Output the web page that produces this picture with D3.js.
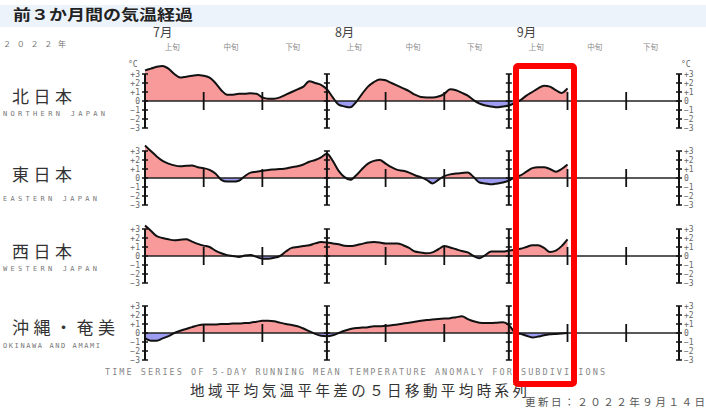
<!DOCTYPE html>
<html><head><meta charset="utf-8">
<script src="https://cdn.jsdelivr.net/npm/d3@7"></script>
<style>body{margin:0;background:#fff;} svg{display:block;}</style>
</head><body>
<svg id="c" width="706" height="409"></svg>
<script>
// ---- data (daily 5-day running mean anomaly, °C, from 2022-07-01) ----
const startDate = new Date(2022, 6, 1);
const endDate = new Date(2022, 8, 30);
const northern = [3.4,3.6,3.8,3.9,3.6,3.0,2.6,2.7,2.8,2.9,2.8,2.6,2.0,1.2,0.7,0.7,0.8,0.8,0.85,0.8,0.4,0.25,0.25,0.4,0.7,1.0,1.3,1.6,2.2,2.0,1.8,1.3,0.4,-0.4,-0.6,-0.7,-0.1,0.8,1.6,2.1,2.4,2.3,2.0,1.7,1.4,1.1,0.7,0.45,0.4,0.4,0.5,0.8,1.3,1.2,0.9,0.6,0.1,-0.3,-0.5,-0.6,-0.7,-0.6,-0.5,-0.2,0.1,0.6,1.0,1.4,1.7,1.6,1.2,0.9,1.4];
const eastern = [3.6,3.0,2.4,1.9,1.6,1.4,1.3,1.35,1.4,1.2,1.1,0.9,0.5,-0.2,-0.4,-0.4,-0.3,0.2,0.6,0.7,0.8,0.9,0.95,1.0,1.05,1.2,1.3,1.5,1.8,2.0,2.3,2.7,1.9,0.8,0.1,-0.2,0.3,1.0,1.6,1.9,2.0,1.6,1.2,0.9,0.8,0.6,0.3,0.1,-0.2,-0.6,-0.2,0.2,0.4,0.5,0.55,0.6,0.1,-0.5,-0.6,-0.7,-0.6,-0.5,-0.3,0.1,0.3,0.7,1.1,1.2,1.2,1.0,0.7,1.0,1.5];
const western = [3.4,2.8,2.2,2.0,1.85,1.75,1.8,1.85,1.6,1.35,1.15,1.0,0.6,0.3,0.1,0.0,-0.1,0.05,0.1,-0.1,-0.3,-0.3,-0.2,0.0,0.5,0.9,1.0,1.1,1.2,1.4,1.55,1.5,1.4,1.3,1.15,1.1,1.2,1.35,1.5,1.55,1.5,1.4,1.4,1.4,1.2,0.9,0.5,0.4,0.3,0.4,0.75,1.1,0.95,0.75,0.55,0.4,0.0,-0.25,0.1,0.5,0.5,0.5,0.6,0.7,0.8,1.0,1.2,1.2,0.9,0.45,0.6,1.1,1.85];
const okinawa = [-0.6,-0.85,-0.85,-0.6,-0.35,0.0,0.25,0.45,0.65,0.85,0.95,0.95,0.95,1.0,1.0,1.05,1.05,1.1,1.15,1.25,1.35,1.35,1.3,1.15,1.0,0.9,0.75,0.5,0.2,-0.1,-0.3,-0.35,-0.25,0.0,0.25,0.45,0.55,0.6,0.65,0.75,0.75,0.8,0.85,0.95,1.05,1.15,1.25,1.35,1.45,1.5,1.55,1.6,1.65,1.75,1.85,1.55,1.3,1.15,1.1,1.1,1.15,1.2,0.9,0.1,-0.1,-0.3,-0.5,-0.4,-0.25,-0.15,-0.1,-0.05,0.0];
const regionNames = ["北日本","東日本","西日本","沖縄・奄美"];
const regionNamesEn = ["NORTHERN JAPAN","EASTERN JAPAN","WESTERN JAPAN","OKINAWA AND AMAMI"];
const monthLabels = ["7月","8月","9月"];
const dekadLabels = ["上旬","中旬","下旬"];
const yTickValues = [3,2,1,0,-1,-2,-3];
const yTickLabels = ["+3","+2","+1","0","−1","−2","−3"];
const yearLabel = "２０２２年";
const titleText = "前３か月間の気温経過";
const footEn = "TIME SERIES OF 5-DAY RUNNING MEAN TEMPERATURE ANOMALY FOR SUBDIVISIONS";
const footJp = "地域平均気温平年差の５日移動平均時系列";
const updated = "更新日：２０２２年９月１４日";

const series = [northern, eastern, western, okinawa];

// ---- layout ----
const svg = d3.select("#c");
const W = 706, H = 409;
const x = d3.scaleTime().domain([startDate, endDate]).range([145, 679]);
const zeros = [101, 178, 256, 333];
const jpBase = [103, 181, 258, 334];
const enBase = [116, 201, 271, 348];
const jpLen = [60, 60, 60, 103];
const enLen = [102, 94, 94, 97];

const day = i => d3.timeDay.offset(startDate, i);
const monthStarts = [0,1,2].map(m => new Date(2022, 6 + m, 1));
const axisDates = [...monthStarts, endDate];
const dekadDates = [];
monthStarts.forEach(m => { dekadDates.push(new Date(2022, m.getMonth(), 11)); dekadDates.push(new Date(2022, m.getMonth(), 21)); });

// header band
svg.append("rect").attr("x", 0).attr("y", 5).attr("width", W).attr("height", 22).attr("fill", "#edf3fb");
svg.append("text").attr("x", 13).attr("y", 20).attr("font-family", "Noto Sans CJK JP").attr("font-weight", "bold")
  .attr("font-size", 14.5).attr("fill", "#222").attr("textLength", 180).attr("lengthAdjust", "spacingAndGlyphs").text(titleText);

svg.append("text").attr("x", 3).attr("y", 47).attr("font-family", "Noto Sans CJK JP").attr("font-size", 8)
  .attr("fill", "#777").attr("textLength", 63).attr("lengthAdjust", "spacing").text(yearLabel);

// month labels
monthStarts.forEach((m, i) => {
  svg.append("text").attr("x", x(m) + 8).attr("y", 37).attr("font-family", "Noto Sans CJK JP")
    .attr("font-size", 12.5).attr("fill", "#444").text(monthLabels[i]);
  const mEnd = d3.timeMonth.offset(m, 1);
  const bounds = [m, new Date(2022, m.getMonth(), 11), new Date(2022, m.getMonth(), 21), mEnd];
  for (let k = 0; k < 3; k++) {
    const cx = (x(bounds[k]) + x(k === 2 && i === 2 ? endDate : bounds[k + 1])) / 2;
    svg.append("text").attr("x", cx - 2).attr("y", 50).attr("text-anchor", "middle").attr("font-family", "Noto Sans CJK JP")
      .attr("font-size", 7.5).attr("fill", "#888").text(dekadLabels[k]);
  }
});

const defs = svg.append("defs");
const mono = "DejaVu Sans Mono";

series.forEach((vals, p) => {
  const z = zeros[p];
  const y = d3.scaleLinear().domain([-3, 3]).range([z + 27, z - 27]);
  const data = vals.map((v, i) => ({ d: day(i), v }));

  defs.append("clipPath").attr("id", "up" + p).append("rect").attr("x", 0).attr("y", 0).attr("width", W).attr("height", y(0));
  defs.append("clipPath").attr("id", "dn" + p).append("rect").attr("x", 0).attr("y", y(0)).attr("width", W).attr("height", H - y(0));

  const area = d3.area().x(d => x(d.d)).y0(y(0)).y1(d => y(d.v)).curve(d3.curveMonotoneX);
  const line = d3.line().x(d => x(d.d)).y(d => y(d.v)).curve(d3.curveMonotoneX);

  svg.append("path").datum(data).attr("d", area).attr("fill", "#f99a9a").attr("clip-path", `url(#up${p})`);
  svg.append("path").datum(data).attr("d", area).attr("fill", "#9c9cf0").attr("clip-path", `url(#dn${p})`);

  svg.append("line").attr("x1", x(startDate)).attr("x2", x(endDate)).attr("y1", y(0)).attr("y2", y(0))
    .attr("stroke", "#222").attr("stroke-width", 1.5);

  axisDates.forEach(ad => {
    const ax = x(ad);
    svg.append("line").attr("x1", ax).attr("x2", ax).attr("y1", y(3)).attr("y2", y(-3)).attr("stroke", "#111").attr("stroke-width", 2);
    yTickValues.forEach(t => {
      svg.append("line").attr("x1", ax - 3).attr("x2", ax + 3).attr("y1", y(t)).attr("y2", y(t)).attr("stroke", "#111").attr("stroke-width", 1.5);
    });
  });
  dekadDates.forEach(dd => {
    svg.append("line").attr("x1", x(dd)).attr("x2", x(dd)).attr("y1", y(1)).attr("y2", y(-1)).attr("stroke", "#111").attr("stroke-width", 1.8);
  });

  svg.append("path").datum(data).attr("d", line).attr("fill", "none").attr("stroke", "#111").attr("stroke-width", 2).attr("stroke-linejoin", "round");

  yTickValues.forEach((t, k) => {
    svg.append("text").attr("x", 140).attr("y", y(t) + 3).attr("text-anchor", "end").attr("font-family", mono)
      .attr("font-size", 8).attr("fill", "#666").text(yTickLabels[k]);
    svg.append("text").attr("x", 684).attr("y", y(t) + 3).attr("font-family", mono)
      .attr("font-size", 8).attr("fill", "#666").text(yTickLabels[k]);
  });
  if (p === 0) {
    svg.append("text").attr("x", 128).attr("y", y(3) - 7).attr("font-family", mono).attr("font-size", 8).attr("fill", "#666").text("°C");
    svg.append("text").attr("x", 681).attr("y", y(3) - 7).attr("font-family", mono).attr("font-size", 8).attr("fill", "#666").text("°C");
  }

  svg.append("text").attr("x", 12).attr("y", jpBase[p]).attr("font-family", "Noto Sans CJK JP").attr("font-size", 17)
    .attr("fill", "#333").attr("textLength", jpLen[p]).attr("lengthAdjust", "spacing").text(regionNames[p]);
  svg.append("text").attr("x", 3).attr("y", enBase[p]).attr("font-family", mono).attr("font-size", 7)
    .attr("fill", "#777").attr("textLength", enLen[p]).attr("lengthAdjust", "spacing").text(regionNamesEn[p]);
});

svg.append("text").attr("x", 105).attr("y", 375).attr("font-family", mono).attr("font-size", 8.5)
  .attr("fill", "#888").attr("textLength", 500).attr("lengthAdjust", "spacing").text(footEn);
svg.append("text").attr("x", 190).attr("y", 396).attr("font-family", "Noto Sans CJK JP").attr("font-size", 14.5)
  .attr("fill", "#333").attr("textLength", 337).attr("lengthAdjust", "spacing").text(footJp);
svg.append("text").attr("x", 525).attr("y", 406).attr("font-family", "Noto Sans CJK JP").attr("font-size", 10.5)
  .attr("fill", "#555").attr("textLength", 180).attr("lengthAdjust", "spacing").text(updated);

svg.append("rect").attr("x", 516).attr("y", 66).attr("width", 58).attr("height", 318).attr("rx", 2)
  .attr("fill", "none").attr("stroke", "#ff0000").attr("stroke-width", 6);
</script>
</body></html>
